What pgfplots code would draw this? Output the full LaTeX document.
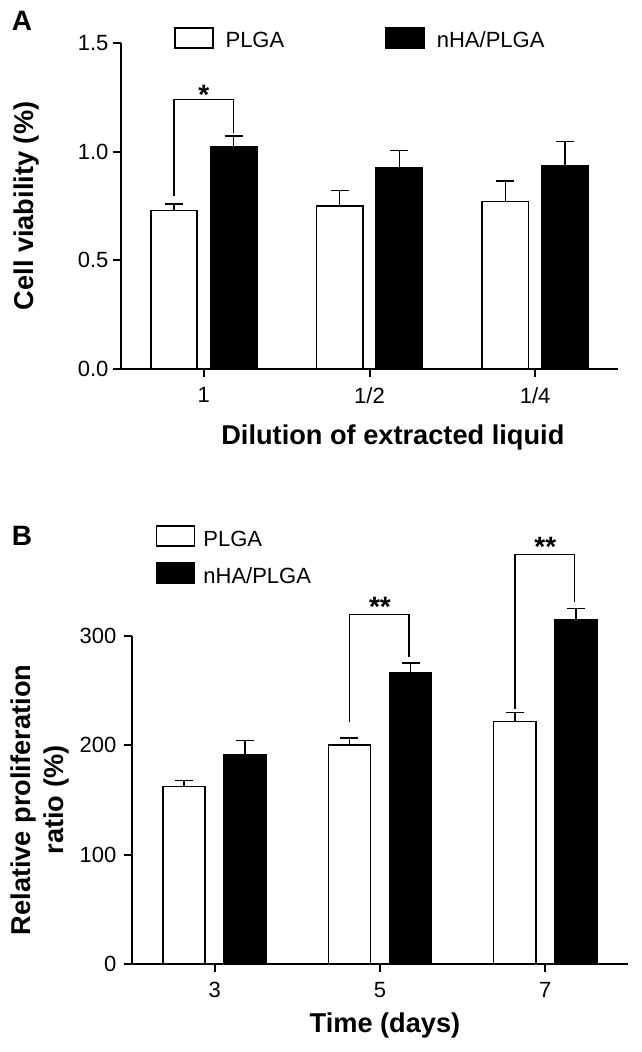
\documentclass[border=0pt]{standalone}
\usepackage{fontspec}
\setmainfont{Liberation Sans}
\usepackage{pgfplots}
\usepackage{pgfplotstable}
\pgfplotsset{compat=1.18}
\newcommand\lt[1]{\raisebox{2.1pt}[7.9pt][0pt]{#1}}

% x = group position (1,2,3) shifted to the bar centre
\pgfplotstableread{
x y e
0.82 0.730 0.030
1.82 0.750 0.072
2.82 0.770 0.094
}\plgaA
\pgfplotstableread{
x y e
1.18 1.024 0.049
2.18 0.927 0.079
3.18 0.937 0.109
}\nhaA
\pgfplotstableread{
x y e
0.815 162.3 5.5
1.815 200.3 6.5
2.815 221.9 8.1
}\plgaB
\pgfplotstableread{
x y e
1.185 191.6 12.9
2.185 266.0 9.4
3.185 315.0 10.0
}\nhaB

\pgfplotsset{
  panel/.style={
    scale only axis, clip=false,
    xmin=0.5, xmax=3.5,
    axis x line*=bottom, axis y line*=left,
    axis line style={line width=1pt,-},
    xtick={1,2,3},
    tick align=outside, major tick length=4.25pt,
    tick style={line width=1pt, black},
    ticklabel style={font=\fontsize{11}{13}\selectfont},
    xticklabel style={yshift=-1.5pt},
    label style={font=\bfseries\fontsize{13.6}{16.5}\selectfont},
    legend style={draw=none, fill=none, inner sep=0pt, outer sep=0pt,
      font=\fontsize{11}{13}\selectfont, cells={anchor=west},
      nodes={inner sep=0pt}},
    legend image code/.code={\draw[##1] (0pt,-1pt) rectangle (19pt,9pt);},
  },
  wbar/.style={ybar, bar shift=0pt, draw=black, fill=white, line width=0.8pt,
    error bars/.cd, y dir=plus, y explicit,
    error bar style={line width=0.8pt, black},
    error mark options={rotate=90, mark size=4.5pt, line width=0.8pt, black},
    /pgfplots/.cd},
  bbar/.style={ybar, bar shift=0pt, draw=black, fill=black, line width=0.8pt,
    error bars/.cd, y dir=plus, y explicit,
    error bar style={line width=0.8pt, black},
    error mark options={rotate=90, mark size=4.5pt, line width=0.8pt, black},
    /pgfplots/.cd},
}

\begin{document}
\begin{tikzpicture}
\path[use as bounding box] (0pt,0pt) rectangle (320.5pt,526pt);

\node[font=\bfseries\fontsize{14}{16}\selectfont] at (11pt,515.5pt) {A};
\node[font=\bfseries\fontsize{14}{16}\selectfont] at (11pt,258pt) {B};

% ---------------- Panel A ----------------
\begin{axis}[panel,
  at={(60.5pt,341.5pt)}, anchor=south west, width=248.5pt, height=163pt,
  ymin=0, ymax=1.5, ytick={0,0.5,1,1.5},
  yticklabels={0.0,0.5,1.0,1.5},
  yticklabel style={xshift=1.5pt},
  xticklabels={1,1/2,1/4},
  xlabel={Dilution of extracted liquid},
  ylabel={Cell viability (\%)},
  xlabel style={at={(axis description cs:0.547,-0.209)}, anchor=center},
  ylabel style={at={(axis description cs:-0.19,0.5)}, anchor=center},
  bar width=0.28,
  legend columns=2,
  legend style={at={(axis description cs:0.1066,1.006)}, anchor=west,
    /tikz/every odd column/.append style={column sep=6pt},
    /tikz/every even column/.append style={column sep=50.5pt}},
]
\addplot[wbar] table[x=x, y=y, y error=e] {\plgaA};
\addlegendentry{\lt{PLGA}}
\addplot[bbar] table[x=x, y=y, y error=e] {\nhaA};
\addlegendentry{\lt{nHA/PLGA}}
\draw[line width=0.75pt] (axis cs:0.82,0.797) -- (axis cs:0.82,1.239) -- (axis cs:1.18,1.239) -- (axis cs:1.18,1.088);
\node[font=\bfseries\fontsize{14}{16}\selectfont, anchor=base, inner sep=0pt] at ([yshift=-2.5pt]axis cs:1,1.239) {*};
\end{axis}

% ---------------- Panel B ----------------
\begin{axis}[panel,
  at={(66pt,44pt)}, anchor=south west, width=248pt, height=164pt,
  ymin=0, ymax=300, ytick={0,100,200,300},
  yticklabels={0,100,200,300},
  xticklabels={3,5,7},
  xlabel={Time (days)},
  ylabel={Relative proliferation\\ratio (\%)},
  xlabel style={at={(axis description cs:0.51,-0.186)}, anchor=center},
  ylabel style={at={(axis description cs:-0.186,0.5)}, anchor=center, align=center},
  bar width=0.255,
  legend style={at={(axis description cs:0.048,1.338)}, anchor=north west,
    /tikz/every odd column/.append style={column sep=4pt},
    row sep={18.5pt,between origins}},
]
\addplot[wbar] table[x=x, y=y, y error=e] {\plgaB};
\addlegendentry{\lt{PLGA}}
\addplot[bbar] table[x=x, y=y, y error=e] {\nhaB};
\addlegendentry{\lt{nHA/PLGA}}
\draw[line width=0.75pt] (axis cs:1.815,221) -- (axis cs:1.815,319.8) -- (axis cs:2.175,319.8) -- (axis cs:2.175,280.5);
\node[font=\bfseries\fontsize{14}{16}\selectfont, anchor=base, inner sep=0pt] at ([yshift=-1pt]axis cs:2,319.8) {**};
\draw[line width=0.75pt] (axis cs:2.815,233) -- (axis cs:2.815,374.6) -- (axis cs:3.175,374.6) -- (axis cs:3.175,331);
\node[font=\bfseries\fontsize{14}{16}\selectfont, anchor=base, inner sep=0pt] at ([yshift=-1pt]axis cs:3,374.6) {**};
\end{axis}
\end{tikzpicture}
\end{document}
